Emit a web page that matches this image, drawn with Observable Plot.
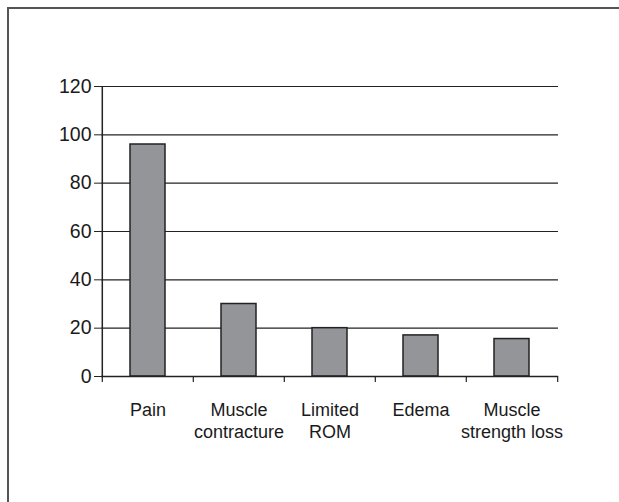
<!DOCTYPE html>
<html>
<head>
<meta charset="utf-8">
<script src="https://cdn.jsdelivr.net/npm/d3@7"></script>
<script src="https://cdn.jsdelivr.net/npm/@observablehq/plot@0.6"></script>
<style>
  html, body { margin: 0; padding: 0; background: #fff; overflow: hidden; }
  #frame { position: absolute; left: 7px; top: 7px; width: 800px; height: 700px;
           border-left: 2px solid #555; border-top: 2px solid #555; }
  #chart { position: absolute; left: 0; top: 0; }
</style>
</head>
<body>
<div id="frame"></div>
<div id="chart"></div>
<script>
const categories = ["Pain", "Muscle\ncontracture", "Limited\nROM", "Edema", "Muscle\nstrength loss"];
const values = [96, 30, 20, 17, 15.5];
const yTicks = [0, 20, 40, 60, 80, 100, 120];
const gridTicks = [20, 40, 60, 80, 100, 120];

const data = categories.map((c, i) => ({category: c, value: values[i]}));

const W = 619, H = 502;
const mL = 101, mR = 61, mT = 86, mB = 126;
const bw = (W - mL - mR) / categories.length;

const font = "'Liberation Sans', Arial, sans-serif";

const chart = Plot.plot({
  width: W,
  height: H,
  marginLeft: mL,
  marginRight: mR,
  marginTop: mT,
  marginBottom: mB,
  style: {fontFamily: font, fontSize: "18px", color: "#1a1a1a", background: "transparent"},
  x: {domain: categories, paddingInner: 0.62, paddingOuter: 0.31, axis: null, label: null},
  y: {domain: [0, 120], axis: null, label: null},
  marks: [
    Plot.ruleY(gridTicks, {stroke: "#222", strokeWidth: 1.2}),
    Plot.barY(data, {x: "category", y: "value", fill: "#939598", stroke: "#222", strokeWidth: 1.5}),
    Plot.ruleY([0], {stroke: "#222", strokeWidth: 1.5}),
    Plot.ruleX([categories[0]], {x: d => d, y1: 0, y2: 120, dx: -bw / 2, stroke: "#222", strokeWidth: 1.5}),
    Plot.axisY({ticks: yTicks, tickSize: 7, tickPadding: 3, tickFormat: d => d, stroke: "#222", fill: "#1a1a1a", fontSize: 19.5, label: null}),
    Plot.ruleX(categories, {x: d => d, y1: 0, y2: 0, insetBottom: -6, dx: -bw / 2, stroke: "#222", strokeWidth: 1.2}),
    Plot.ruleX([categories[categories.length - 1]], {x: d => d, y1: 0, y2: 0, insetBottom: -6, dx: bw / 2, stroke: "#222", strokeWidth: 1.2}),
    Plot.axisX({tickSize: 0, tickPadding: 24, lineHeight: 1.22, fontSize: 18, fill: "#1a1a1a", label: null})
  ]
});
document.getElementById("chart").appendChild(chart);
</script>
</body>
</html>
